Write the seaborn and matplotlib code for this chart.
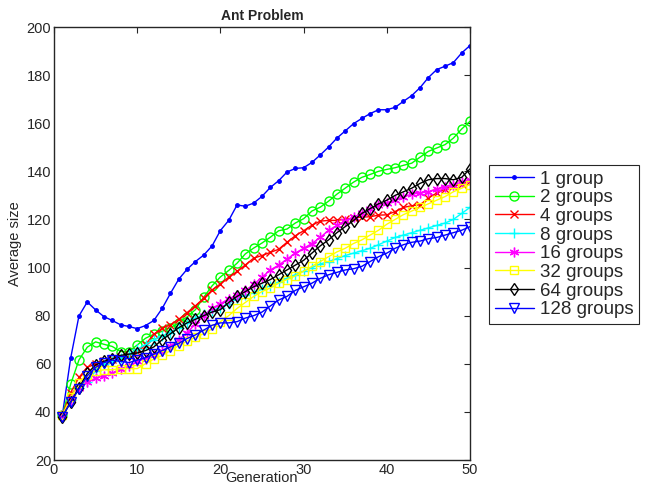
import matplotlib
matplotlib.use("Agg")
import matplotlib.pyplot as plt
import seaborn as sns
import numpy as np
import pandas as pd

generations = list(range(1, 51))

g1 = [38.5, 62.3, 79.9, 85.7, 82.4, 79.6, 78.0, 76.2, 75.5, 74.6,
      75.9, 78.0, 83.0, 89.3, 95.2, 99.3, 102.5, 105.2, 109.0, 115.4,
      119.6, 126.0, 125.5, 126.8, 129.6, 133.3, 136.1, 139.7, 141.2, 141.5,
      143.7, 146.8, 150.1, 153.8, 156.8, 159.8, 162.0, 164.0, 165.6, 165.6,
      166.6, 169.1, 171.5, 174.8, 179.0, 182.3, 183.7, 185.2, 189.2, 192.3]
g2 = [38.5, 51.5, 61.6, 66.9, 69.1, 68.1, 67.2, 65.1, 65.1, 67.8,
      70.6, 72.3, 73.5, 75.0, 77.0, 79.5, 82.5, 87.7, 92.4, 96.1,
      98.8, 101.8, 105.7, 108.1, 110.2, 112.6, 115.3, 116.0, 118.5, 120.3,
      123.5, 125.1, 127.6, 130.5, 133.0, 135.5, 137.5, 138.7, 140.0, 140.8,
      141.5, 142.5, 143.4, 145.9, 148.3, 149.7, 151.1, 153.8, 157.6, 160.8]
g4 = [38.5, 48.0, 54.3, 58.6, 59.8, 61.0, 62.0, 63.0, 63.5, 65.0,
      68.0, 72.3, 74.8, 76.2, 78.5, 81.3, 84.1, 87.3, 90.7, 93.2,
      96.0, 98.4, 101.1, 103.9, 105.0, 106.3, 107.6, 110.5, 113.2, 115.3,
      117.6, 119.3, 119.6, 119.6, 120.1, 120.6, 121.0, 121.1, 121.8, 121.9,
      123.3, 125.0, 125.7, 126.1, 128.9, 131.0, 132.6, 133.7, 134.8, 135.8]
g8 = [38.5, 45.0, 50.0, 52.5, 57.0, 60.0, 61.0, 62.5, 64.0, 66.0,
      68.0, 70.0, 71.5, 73.0, 75.0, 77.0, 79.0, 80.5, 82.0, 83.0,
      85.0, 87.0, 88.5, 89.5, 91.0, 92.5, 94.0, 95.5, 97.0, 98.5,
      100.0, 101.5, 102.5, 103.7, 105.0, 106.0, 107.0, 108.0, 109.5, 111.0,
      112.5, 113.5, 114.5, 115.5, 116.5, 117.5, 118.5, 120.0, 122.5, 125.0]
g16 = [38.5, 45.0, 50.0, 52.5, 54.0, 55.0, 56.0, 58.0, 59.0, 61.0,
       62.0, 63.5, 65.5, 67.5, 70.0, 73.0, 76.5, 80.0, 83.0, 85.0,
       87.0, 88.5, 90.5, 93.0, 96.0, 99.0, 101.0, 103.5, 106.0, 108.0,
       110.0, 112.5, 115.5, 117.5, 119.5, 121.0, 122.5, 124.5, 126.0, 127.0,
       128.0, 129.5, 130.5, 131.0, 131.5, 132.5, 133.5, 134.5, 135.5, 136.5]
g32 = [38.5, 46.0, 52.0, 55.5, 57.0, 57.5, 57.5, 58.0, 58.0, 58.0,
       60.0, 62.0, 63.5, 65.5, 67.5, 69.5, 71.0, 72.5, 74.5, 77.5,
       80.0, 83.0, 85.5, 88.0, 90.0, 91.5, 93.5, 95.0, 96.5, 98.5,
       100.5, 102.5, 104.5, 106.5, 108.0, 110.0, 111.5, 113.5, 115.5, 118.0,
       120.0, 122.0, 123.5, 125.0, 126.5, 128.0, 129.5, 131.5, 133.0, 134.5]
g64 = [38.0, 44.0, 50.0, 56.0, 59.5, 61.0, 62.0, 63.5, 64.0, 64.5,
       65.5, 67.0, 70.0, 72.5, 75.0, 77.0, 78.5, 80.0, 81.5, 82.5,
       85.5, 88.0, 90.0, 92.0, 93.5, 95.0, 97.0, 99.0, 101.0, 103.0,
       106.0, 109.0, 111.5, 114.5, 117.0, 119.5, 122.5, 124.5, 126.5, 128.0,
       130.0, 131.5, 133.0, 135.0, 136.5, 137.0, 137.0, 136.5, 137.5, 141.0]
g128 = [38.0, 44.0, 49.5, 55.0, 58.5, 60.5, 61.5, 61.0, 60.5, 61.5,
        62.5, 64.0, 65.5, 67.0, 68.5, 70.5, 72.0, 74.0, 76.0, 77.0,
        77.0, 77.5, 79.0, 80.0, 81.5, 84.0, 86.5, 88.0, 90.5, 92.0,
        93.5, 95.5, 97.0, 98.0, 99.0, 99.5, 100.5, 102.5, 104.5, 106.0,
        108.0, 109.5, 110.5, 111.0, 112.0, 112.5, 113.5, 114.5, 115.5, 117.0]

labels = ["1 group", "2 groups", "4 groups", "8 groups", "16 groups",
          "32 groups", "64 groups", "128 groups"]
series = [g1, g2, g4, g8, g16, g32, g64, g128]
x_ticks = [0, 10, 20, 30, 40, 50]
y_ticks = [20, 40, 60, 80, 100, 120, 140, 160, 180, 200]

colors = ["#0000ff", "#00ff00", "#ff0000", "#00ffff", "#ff00ff",
          "#ffff00", "#000000", "#0000ff"]
markers = [".", "o", "x", "+", (6, 2, 0), "s", "d", "v"]
msizes = [5, 6.5, 5.5, 7, 7, 6, 6.5, 6.5]
filled = [True, False, True, True, True, False, False, False]

sns.set_theme(style="white")
plt.rcParams["font.family"] = ["Liberation Sans", "DejaVu Sans"]

fig = plt.figure(figsize=(6.45, 4.87), dpi=100)
ax = fig.add_axes([54 / 645, 1 - 460 / 487, (470 - 54) / 645, (460 - 27) / 487])

for lab, vals, c, m, ms, f in zip(labels, series, colors, markers, msizes, filled):
    df = pd.DataFrame({"Generation": generations, "size": vals})
    kw = dict(marker=m, markersize=ms, color=c, linewidth=1.0,
              markeredgecolor=c, markeredgewidth=1.0)
    kw["markerfacecolor"] = c if f else "none"
    sns.lineplot(data=df, x="Generation", y="size", ax=ax, label=lab, **kw)

ax.set_xlim(0, 50)
ax.set_ylim(20, 200)
ax.set_xticks(x_ticks)
ax.set_yticks(y_ticks)
ax.tick_params(direction="in", top=True, right=True, length=4, width=0.8,
               labelsize=10.5, colors="#262626", pad=2)
for s in ax.spines.values():
    s.set_color("#262626")
    s.set_linewidth(1.0)
ax.set_xlabel("Generation", fontsize=10.5, color="#262626")
ax.xaxis.set_label_coords(0.5, -(485 - 460) / 433)
ax.xaxis.label.set_va("bottom")
ax.set_ylabel("Average size", fontsize=10.5, color="#262626", labelpad=3)
ax.set_title("Ant Problem", fontsize=10, fontweight="bold", pad=5)

leg = ax.legend(loc="upper left", bbox_to_anchor=(489 / 645, 1 - 165 / 487),
                bbox_transform=fig.transFigure, borderaxespad=0,
                fontsize=13.5, frameon=True, fancybox=False, framealpha=1,
                edgecolor="#262626", labelspacing=0.08, handlelength=2.1,
                handletextpad=0.3, borderpad=0.3)
leg.get_frame().set_linewidth(0.8)

fig.savefig("out.png", dpi=100)
